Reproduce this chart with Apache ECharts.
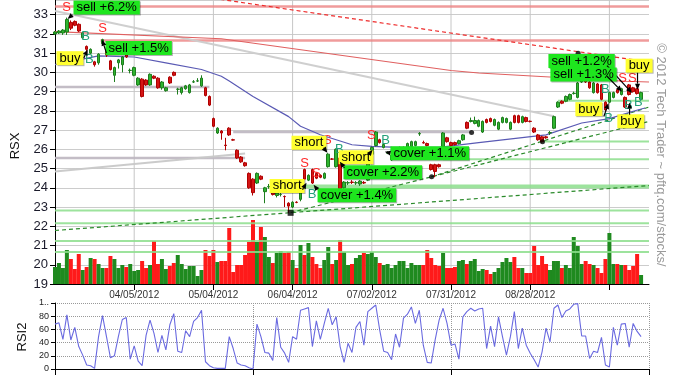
<!DOCTYPE html>
<html><head><meta charset="utf-8">
<script src="https://cdn.jsdelivr.net/npm/echarts/dist/echarts.min.js"></script>
<style>html,body{margin:0;padding:0;background:#fff}#c{width:677px;height:382px}</style>
</head><body><div id="c"></div>
<script>
// ---------------- data ----------------
const tickIdx = [20, 40, 60, 80, 100, 120, 140];
const tickLabels = ['04/05/2012', '05/04/2012', '06/04/2012', '07/02/2012', '07/31/2012', '08/28/2012', ''];

const opens = [32.00,32.05,32.05,32.10,32.60,32.65,32.50,31.80,31.35,31.00,30.55,30.50,31.50,31.20,30.60,29.85,30.50,30.40,31.00,30.10,
29.85,29.35,29.65,29.60,29.35,29.80,29.70,29.20,29.05,29.75,30.00,29.12,28.95,29.15,28.95,29.50,29.55,29.30,29.20,28.75,
27.60,26.85,26.95,26.22,27.10,26.50,25.95,25.60,25.30,24.75,24.45,24.25,24.60,23.80,24.05,23.90,23.60,23.65,23.55,23.20,
23.00,23.25,23.40,24.95,24.40,24.95,24.75,24.65,24.50,25.10,25.50,25.10,25.55,24.00,24.25,24.30,24.25,24.20,24.28,24.40,
25.75,26.20,26.50,26.10,25.80,25.45,25.80,25.90,26.00,26.10,26.15,26.20,26.80,26.35,26.30,25.20,25.20,25.20,26.15,26.60,
26.35,26.35,26.30,26.50,27.40,27.45,27.35,27.20,26.90,27.55,27.60,27.25,27.05,27.40,27.40,27.05,27.75,27.75,27.40,27.65,
27.46,27.10,26.75,26.65,26.65,26.85,27.10,28.20,28.50,28.50,28.60,28.90,28.70,29.50,29.60,29.50,28.95,29.40,29.35,28.45,
28.45,28.70,29.10,28.85,28.70,29.35,29.20,29.15,28.60];
const closes = [32.10,32.15,32.20,32.75,32.30,32.45,32.15,32.05,31.20,31.20,30.40,30.95,31.70,30.90,30.15,30.25,30.65,30.80,30.80,30.11,
30.25,29.70,28.75,29.35,29.90,29.70,29.20,29.50,29.20,29.45,29.85,29.13,29.20,29.30,29.35,29.51,29.56,29.70,28.80,28.30,
27.20,27.10,26.85,26.20,26.75,26.48,25.55,25.35,25.15,24.00,23.75,24.75,24.45,24.00,24.07,23.65,23.75,23.66,23.54,23.05,
23.25,23.24,24.30,24.45,24.65,24.25,24.50,24.55,24.75,25.75,25.49,26.00,23.95,24.30,24.27,24.28,24.27,24.35,24.25,25.70,
26.10,26.90,26.35,26.25,25.82,25.70,26.00,26.10,26.10,26.30,26.40,26.40,26.82,26.33,26.20,24.95,24.85,25.10,26.85,26.40,
26.20,26.25,26.45,26.75,27.10,27.50,27.50,27.50,27.45,27.40,27.45,27.55,27.40,27.65,27.60,27.40,27.40,27.40,27.70,27.45,
27.45,26.90,26.50,26.40,26.60,26.87,27.70,28.45,28.40,28.75,28.85,28.92,29.45,29.60,29.50,29.20,29.45,28.95,28.60,28.05,
28.95,28.95,28.95,29.15,28.20,28.85,29.00,28.90,28.95];
const lows = [31.95,32.00,31.95,31.95,32.20,32.40,32.10,31.75,31.10,30.95,30.30,30.40,31.45,30.80,30.10,29.50,30.20,30.00,30.75,29.95,
29.80,29.30,28.70,29.30,29.30,29.65,29.15,29.10,29.00,29.40,29.80,28.85,28.85,29.10,28.90,29.45,29.50,29.25,28.75,28.25,
27.15,26.80,26.50,25.95,26.70,26.45,25.50,25.30,25.10,23.95,23.60,24.20,24.40,23.20,23.95,23.60,23.50,23.55,23.00,22.70,
22.95,23.20,23.30,24.40,24.35,24.20,24.45,24.50,24.45,25.05,25.45,25.05,23.90,23.95,24.15,24.20,24.15,24.10,24.20,24.35,
25.70,26.15,26.30,26.05,25.75,25.40,25.75,25.85,25.95,26.05,26.10,26.15,26.70,26.30,26.15,24.90,24.55,25.05,26.10,26.35,
26.15,26.20,26.25,26.45,27.05,27.40,27.30,27.15,26.85,27.35,27.40,27.20,27.00,27.35,27.35,27.00,27.35,27.35,27.35,27.40,
27.40,26.85,26.45,26.35,26.55,26.75,27.05,28.15,28.35,28.45,28.55,28.85,28.65,29.45,29.45,29.15,28.90,28.90,28.55,28.00,
28.40,28.65,28.90,28.80,28.15,28.80,28.95,28.85,28.55];
const highs = [32.15,32.20,32.25,32.85,32.70,32.70,32.55,32.10,31.40,31.25,30.60,31.00,31.75,31.30,30.65,30.30,30.70,30.85,31.05,30.20,
30.30,29.75,29.70,29.65,29.95,29.85,29.75,29.55,29.25,29.80,30.05,29.20,29.25,29.35,29.40,29.60,29.70,29.85,29.25,28.80,
27.65,27.15,27.00,26.60,27.15,26.55,26.00,25.65,25.35,24.80,24.50,24.80,24.65,24.05,24.20,23.95,23.80,23.75,23.60,23.25,
23.30,23.30,24.35,25.00,24.70,25.00,24.80,24.70,24.80,25.80,25.55,26.05,25.60,24.35,24.35,24.40,24.35,24.40,24.35,25.75,
26.15,26.95,26.55,26.30,25.90,25.75,26.05,26.15,26.15,26.35,26.45,26.45,26.90,26.45,26.35,25.25,25.25,25.25,26.90,26.65,
26.40,26.40,26.50,26.80,27.45,27.65,27.70,27.55,27.50,27.60,27.65,27.60,27.45,27.70,27.65,27.45,27.80,27.80,27.75,27.70,
27.50,27.15,26.80,26.70,26.70,26.95,27.75,28.50,28.55,28.80,28.90,29.00,29.50,29.70,29.65,29.55,29.50,29.45,29.40,28.50,
29.00,29.00,29.15,29.20,28.75,29.40,29.25,29.20,29.00];
const volumes = [17,21,16,34,25,15,30,14,17,26, 25,20,16,16,28,25,16,19,17,20, 13,14,23,16,19,43,20,25,15,18,
21,29,20,15,18,18,8,14,34,28, 34,22,23,23,56,12,19,19,29,42, 64,42,57,47,27,21,31,33,31,32,
24,16,39,29,41,27,20,16,24,37, 20,24,44,32,19,20,26,29,31,30, 32,27,21,19,20,16,19,23,23,16,
21,19,19,19,34,26,19,18,31,16, 16,17,23,24,20,23,25,13,15,14, 10,12,16,22,26,22,27,16,16,11,
11,38,19,28,20,14,23,23,16,19, 16,47,38,20,23,20,19,16,11,25, 51,20,20,19,19,14,18,30,9];
const rsi2 = [68,70,45,82,44,63,34,21,6,5,1,49,81,49,17,20,49,75,78,15,35,12,5,51,74,54,25,51,29,67,84,27,25,58,49,72,78,89,11,5,
2,1,1,1,49,31,9,6,5,2,0,68,49,25,24,13,78,33,24,10,49,45,89,91,93,34,73,45,69,92,
67,79,34,10,39,25,63,72,36,87,92,97,59,27,25,14,53,33,77,83,94,69,89,36,10,9,44,74,92,69,
36,38,15,79,87,92,88,91,92,31,65,34,79,49,21,49,87,31,62,36,24,14,3,26,62,41,92,97,78,88,
91,98,99,50,50,16,27,25,48,6,3,63,36,68,69,33,69,57,49];

// moving averages / trend lines as [day index, price]
const maBlue = [[0,30.4],[11,30.86],[20,30.8],[28,30.5],[37,30.15],[42,29.8],[44,29.55],[50,28.75],[59,27.7],[62,27.2],[67,26.76],[75,26.24],[80,26.15],[85,26.12],[97,26.1],[107,26.35],[124,26.75],[133,27.37],[140,27.6],[146,27.98],[149,28.15]];
const maRed = [[0,32.12],[42,31.75],[100,30.1],[107,29.97],[144,29.54],[150,29.5]];
const grayTrend = [[0,33.19],[126,27.72]];
const grayRise = [[0,24.85],[48,25.79]];
const redDashed = [[40,33.85],[150,30.54]];
const greenDashedA = [[0,21.78],[150,24.12]];
const greenDashedB = [[59.5,22.71],[150,27.45]];
const greenDashedC = [[95,24.57],[150,28.2]];
// horizontal levels: [kind, fromDay, toDay, price]
const levels = [['red',0,150,33.43],['red',11.5,150,31.66],['gray',0,39,29.24],['gray',45,105,26.9],['gray',0,48,25.55],
 ['greenWide',59.5,150,24.07],['green',0,150,22.82],['green',0,150,22.16],['green',0,150,21.24],['green',0,150,20.67],
 ['green',123,150,26.41],['green',127,150,28.52],['green',98,150,25.49]];
// trade signals: [text, kind, labelDay, labelPrice, arrowFromDay, arrowFromPrice, arrowToDay, arrowToPrice]
const signals = [
 ['sell +6.2%','sell',4.67,33.37,4.42,33.0,3.16,32.78],
 ['buy','buy',0.38,30.74,7.27,30.75,8.28,31.19],
 ['sell +1.5%','sell',12.75,31.27,13.0,31.0,11.9,31.7],
 ['short','buy',59.72,26.34,67.8,26.08,68.8,25.82],
 ['short','buy',54.2,24.1,62.5,23.9,63.5,24.26],
 ['short','buy',71.6,25.59,79.2,25.72,80.2,25.98],
 ['cover +2.2%','sell',72.85,24.81,73.1,25.04,71.9,25.35],
 ['cover +1.4%','sell',66.3,23.61,66.3,23.9,65.3,24.16],
 ['cover +1.1%','sell',84.7,25.8,84.7,25.8,83.3,25.87],
 ['sell +1.2%','sell',124.6,30.59,139.4,30.35,145.7,28.93],
 ['sell +1.3%','sell',125.1,29.89,139.4,29.8,143.2,29.0],
 ['buy','buy',144.1,30.35,147.1,29.98,147.1,29.1],
 ['buy','buy',131.4,28.09,138.6,27.71,139.8,28.41],
 ['buy','buy',142,27.46,145.1,27.8,145.1,28.43]
];
// S / B letters: [day, price, letter]
const letters = [[2.9,33.38,'S'],[7.7,31.86,'B'],[12.0,32.28,'S'],[8.7,30.67,'B'],[68.8,26.45,'S'],[63,25.25,'S'],[66,24.73,'S'],
 [64.9,23.67,'B'],[71.8,25.98,'B'],[79.9,26.7,'S'],[83.5,26.45,'B'],[143.3,29.68,'S'],[145.8,29.68,'S'],[147.3,28.43,'B'],
 [144.8,28.27,'B'],[139.8,27.6,'B'],[139,29.1,'B']];
// pivot markers: [shape, day, price]
const pivots = [['rect',59.5,22.7],['circle',95.1,24.57],['circle',105.2,26.88],['circle',123.1,26.4],['circle',132.1,31.0]];

// ---------------- chart ----------------
const FONT = '"Liberation Sans", Arial, sans-serif';
const PRICE_MIN = 19, PRICE_MAX = 19 + 284/19.236;
const levelStyle = {
  red: {color:'rgba(236,130,130,0.8)', width:2.5},
  gray: {color:'rgba(188,182,192,0.9)', width:2.5},
  green: {color:'rgba(140,222,140,0.85)', width:2},
  greenWide: {color:'rgba(140,222,140,0.85)', width:4}
};
const UP = '#2fb52f', UPB = '#1d7d1d', DN = '#d41515', DNB = '#b00000';

const candleData = opens.map((o, k) => [k, o, closes[k], lows[k], highs[k]]);
const volData = volumes.map((v, k) => ({value:[k, v], itemStyle:{color: closes[k] >= opens[k] ? '#1f8a1f' : '#ff1a1a'}}));

function lineSeries(data, color, width, type, z) {
  return {type:'line', xAxisIndex:0, yAxisIndex:0, data, symbol:'none', silent:true, z: z === undefined ? 2 : z,
    lineStyle:{color, width, type: type || 'solid'}, animation:false};
}

const series = [];
// vertical grid lines at the date ticks
tickIdx.forEach(k => series.push(lineSeries([[k, PRICE_MIN], [k, PRICE_MAX]], '#c6c6c6', 1, 'solid', 0)));
series.push({type:'bar', xAxisIndex:0, yAxisIndex:1, data: volData, barWidth:4, z:1, animation:false});
levels.forEach(l => {
  const s = levelStyle[l[0]];
  series.push(lineSeries([[l[1], l[3]], [l[2], l[3]]], s.color, s.width, 'solid', 2));
});
series.push(lineSeries(grayTrend, 'rgba(204,204,204,0.95)', 2));
series.push(lineSeries(grayRise, 'rgba(200,200,200,0.95)', 2));
series.push(lineSeries(maRed, '#e06060', 1.2));
series.push(lineSeries(redDashed, '#ee2a2a', 1.2, [4,3]));
series.push(lineSeries(greenDashedA, '#2a8a2a', 1.2, [4,3]));
series.push(lineSeries(greenDashedB, '#2a8a2a', 1.2, [4,3]));
series.push(lineSeries(greenDashedC, '#2a8a2a', 1.2, [4,3]));
series.push(lineSeries(maBlue, '#5a5ab4', 1.2));
series.push({type:'candlestick', xAxisIndex:0, yAxisIndex:0, data: candleData, encode:{x:0, y:[1,2,3,4]},
  barWidth:3, z:5, animation:false,
  itemStyle:{color:UP, color0:DN, borderColor:UPB, borderColor0:DNB, borderWidth:1}});
series.push({type:'scatter', xAxisIndex:0, yAxisIndex:0, z:6, animation:false, silent:true,
  data: pivots.map(p => ({value:[p[1], p[2]], symbol:p[0], symbolSize: p[0]==='rect' ? 6 : 5})),
  itemStyle:{color:'#000'}});
series.push({type:'custom', xAxisIndex:0, yAxisIndex:0, z:7, animation:false, silent:true,
  data: letters.map(l => [l[0], l[1]]), encode:{x:0, y:1},
  renderItem: function (params, api) {
    const l = letters[params.dataIndex];
    const p = api.coord([l[0], l[1]]);
    return {type:'text', x:p[0], y:p[1], style:{text:l[2], fill: l[2]==='S' ? '#ff2a2a' : '#23a07a',
      fontSize:13, fontFamily:FONT, align:'center', verticalAlign:'middle'}};
  }});
series.push({type:'custom', xAxisIndex:0, yAxisIndex:0, z:8, animation:false, silent:true,
  data: signals.map(s => [s[2], s[3]]), encode:{x:0, y:1},
  renderItem: function (params, api) {
    const s = signals[params.dataIndex];
    const p = api.coord([s[2], s[3]]);
    const a0 = api.coord([s[4], s[5]]);
    const a1 = api.coord([s[6], s[7]]);
    const dx = a1[0]-a0[0], dy = a1[1]-a0[1], len = Math.hypot(dx, dy) || 1, ux = dx/len, uy = dy/len;
    const hl = Math.min(6, len), hw = 2.5;
    const bx = a1[0]-ux*hl, by = a1[1]-uy*hl;
    return {type:'group', children:[
      {type:'text', x:p[0], y:p[1], style:{text:s[0], fill:'#000', fontSize:13, fontFamily:FONT,
        align:'left', verticalAlign:'middle', lineHeight:14, padding:[0,3,0,3],
        backgroundColor: s[1]==='sell' ? '#1ee61e' : '#ffff30',
        shadowColor:'rgba(0,0,0,0.3)', shadowOffsetX:1, shadowOffsetY:1, shadowBlur:0}},
      {type:'line', shape:{x1:a0[0], y1:a0[1], x2:bx, y2:by}, style:{stroke:'#000', lineWidth:1.2}},
      {type:'polygon', shape:{points:[[a1[0],a1[1]],[bx-uy*hw, by+ux*hw],[bx+uy*hw, by-ux*hw]]}, style:{fill:'#000'}}
    ]};
  }});
series.push({type:'line', xAxisIndex:1, yAxisIndex:2, data: rsi2.map((v, k) => [k, v]), symbol:'none',
  lineStyle:{color:'#6a6ae0', width:1.1}, animation:false});

const option = {
  animation:false,
  backgroundColor:'#fff',
  grid:[{left:55, right:28, top:0, height:284}, {left:55, right:28, top:303, height:66}],
  xAxis:[
    {type:'value', gridIndex:0, min:0, max:150, interval:20,
      axisLine:{lineStyle:{color:'#000', width:1}},
      axisTick:{length:6, lineStyle:{color:'#000'}, customValues: tickIdx},
      axisLabel:{fontSize:10, fontFamily:FONT, color:'#333', margin:6, customValues: tickIdx,
        formatter: v => { const i = tickIdx.indexOf(v); return i >= 0 ? tickLabels[i] : ''; }},
      splitLine:{show:false}},
    {type:'value', gridIndex:1, min:0, max:150, interval:50,
      axisLine:{lineStyle:{color:'#000', width:1}},
      axisTick:{length:6, lineStyle:{color:'#000'}},
      axisLabel:{show:false},
      splitLine:{show:true, lineStyle:{color:'#999', type:'dotted'}}}
  ],
  yAxis:[
    {type:'value', gridIndex:0, min:PRICE_MIN, max:PRICE_MAX, interval:1,
      axisLine:{show:true, lineStyle:{color:'#000'}},
      axisTick:{show:true, length:5, lineStyle:{color:'#000'}},
      axisLabel:{fontSize:13, fontFamily:FONT, color:'#1a1a2a', margin:7, showMaxLabel:false,
        formatter: v => Number.isInteger(v) ? String(v) : ''},
      splitLine:{lineStyle:{color:'#cccccc'}}},
    {type:'value', gridIndex:0, min:0, max:284, show:false, splitLine:{show:false}},
    {type:'value', gridIndex:1, min:0, max:100, interval:20,
      axisLine:{show:true, lineStyle:{color:'#000'}},
      axisTick:{show:true, length:4, lineStyle:{color:'#000'}},
      axisLabel:{fontSize:9, fontFamily:FONT, color:'#222', margin:6, formatter: v => v === 100 ? '1..' : String(v)},
      splitLine:{lineStyle:{color:'#999', type:'dotted'}}}
  ],
  graphic:[
    {type:'text', x:15, y:146, rotation:Math.PI/2, style:{text:'RSX', fontSize:13, fontFamily:FONT, fill:'#111', align:'center', verticalAlign:'middle'}},
    {type:'text', x:22, y:337, rotation:Math.PI/2, style:{text:'RSI2', fontSize:13, fontFamily:FONT, fill:'#111', align:'center', verticalAlign:'middle'}},
    {type:'text', x:661, y:155, rotation:-Math.PI/2, style:{text:'© 2012 Tech Trader ~ pftq.com/stocks/', fontSize:13, fontFamily:FONT, fill:'#9a9a9a', align:'center', verticalAlign:'middle'}}
  ],
  series
};
const chart = echarts.init(document.getElementById('c'));
chart.setOption(option);
</script></body></html>
